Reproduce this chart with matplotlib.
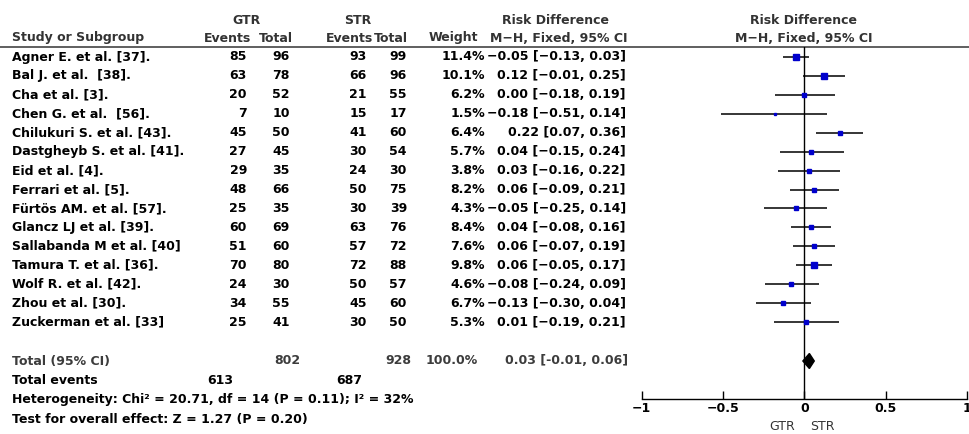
import matplotlib.pyplot as plt
from matplotlib.patches import Polygon
import numpy as np

plt.rcParams['font.family'] = 'DejaVu Sans'

# study level data
studies = ['Agner E. et al. [37].', 'Bal J. et al.  [38].', 'Cha et al. [3].',
           'Chen G. et al.  [56].', 'Chilukuri S. et al. [43].', 'Dastgheyb S. et al. [41].',
           'Eid et al. [4].', 'Ferrari et al. [5].', 'Fürtös AM. et al. [57].',
           'Glancz LJ et al. [39].', 'Sallabanda M et al. [40]', 'Tamura T. et al. [36].',
           'Wolf R. et al. [42].', 'Zhou et al. [30].', 'Zuckerman et al. [33]']
gtr_events = [85, 63, 20, 7, 45, 27, 29, 48, 25, 60, 51, 70, 24, 34, 25]
gtr_total = [96, 78, 52, 10, 50, 45, 35, 66, 35, 69, 60, 80, 30, 55, 41]
str_events = [93, 66, 21, 15, 41, 30, 24, 50, 30, 63, 57, 72, 50, 45, 30]
str_total = [99, 96, 55, 17, 60, 54, 30, 75, 39, 76, 72, 88, 57, 60, 50]
weight = [11.4, 10.1, 6.2, 1.5, 6.4, 5.7, 3.8, 8.2, 4.3, 8.4, 7.6, 9.8, 4.6, 6.7, 5.3]
rd = [-0.05, 0.12, 0.00, -0.18, 0.22, 0.04, 0.03, 0.06, -0.05, 0.04, 0.06, 0.06, -0.08, -0.13, 0.01]
ci_lo = [-0.13, -0.01, -0.18, -0.51, 0.07, -0.15, -0.16, -0.09, -0.25, -0.08, -0.07, -0.05, -0.24, -0.30, -0.19]
ci_hi = [0.03, 0.25, 0.19, 0.14, 0.36, 0.24, 0.22, 0.21, 0.14, 0.16, 0.19, 0.17, 0.09, 0.04, 0.21]

# pooled result
tot_gtr, tot_str = 802, 928
ev_gtr, ev_str = 613, 687
pooled = [0.03, -0.01, 0.06]

xticks = [-1, -0.5, 0, 0.5, 1]
xticklabels = ['\u22121', '\u22120.5', '0', '0.5', '1']

W, H = 970, 434
fig = plt.figure(figsize=(W / 100, H / 100), dpi=100)

# text layer in pixel units
tax = fig.add_axes([0, 0, 1, 1])
tax.set_xlim(0, W)
tax.set_ylim(H, 0)
tax.axis('off')

y0, dy = 57, 18.93
fs = 9
hdr = '#333333'
bold = dict(fontsize=fs, fontweight='bold', va='center', color='black')
grey = dict(fontsize=fs, fontweight='bold', va='center', color='#3c3c3c')
head = dict(fontsize=fs, fontweight='bold', va='center', color=hdr)


def fmt(v):
    return ('%.2f' % v).replace('-', '\u2212')


# header
tax.text(247, 20, 'GTR', ha='center', **head)
tax.text(358, 20, 'STR', ha='center', **head)
tax.text(556, 20, 'Risk Difference', ha='center', **head)
tax.text(804, 20, 'Risk Difference', ha='center', **head)
tax.text(12, 38, 'Study or Subgroup', ha='left', **head)
tax.text(251, 38, 'Events', ha='right', **head)
tax.text(293, 38, 'Total', ha='right', **head)
tax.text(373, 38, 'Events', ha='right', **head)
tax.text(408, 38, 'Total', ha='right', **head)
tax.text(478, 38, 'Weight', ha='right', **head)
tax.text(559, 38, 'M\u2212H, Fixed, 95% CI', ha='center', **head)
tax.text(804, 38, 'M\u2212H, Fixed, 95% CI', ha='center', **head)
tax.axhline(46.7, color='#444444', lw=1.2)

# study rows
for i, name in enumerate(studies):
    y = y0 + i * dy
    tax.text(12, y, name, ha='left', **bold)
    tax.text(247, y, str(gtr_events[i]), ha='right', **bold)
    tax.text(290, y, str(gtr_total[i]), ha='right', **bold)
    tax.text(367, y, str(str_events[i]), ha='right', **bold)
    tax.text(407, y, str(str_total[i]), ha='right', **bold)
    tax.text(485, y, '%.1f%%' % weight[i], ha='right', **bold)
    tax.text(626, y, '%s [%s, %s]' % (fmt(rd[i]), fmt(ci_lo[i]), fmt(ci_hi[i])), ha='right', **bold)

# totals
yt = 361
tax.text(12, yt, 'Total (95% CI)', ha='left', **grey)
tax.text(300, yt, str(tot_gtr), ha='right', **grey)
tax.text(411, yt, str(tot_str), ha='right', **grey)
tax.text(478, yt, '100.0%', ha='right', **grey)
tax.text(628, yt, '%.2f [%.2f, %.2f]' % tuple(pooled), ha='right', **grey)
tax.text(12, 381, 'Total events', ha='left', **bold)
tax.text(233, 381, str(ev_gtr), ha='right', **bold)
tax.text(362, 381, str(ev_str), ha='right', **bold)
tax.text(12, 400, 'Heterogeneity: Chi\u00b2 = 20.71, df = 14 (P = 0.11); I\u00b2 = 32%', ha='left', **bold)
tax.text(12, 419, 'Test for overall effect: Z = 1.27 (P = 0.20)', ha='left', **bold)

# forest plot
x_lo, x_hi = 641.7, 967.3
ax_top, ax_bot = 46.7, 399.3
fax = fig.add_axes([x_lo / W, (H - ax_bot) / H, (x_hi - x_lo) / W, (ax_bot - ax_top) / H])
fax.patch.set_alpha(0)
fax.set_xlim(-1, 1)
fax.set_ylim((ax_bot - y0) / dy, (ax_top - y0) / dy)
for s in ['top', 'left', 'right']:
    fax.spines[s].set_visible(False)
fax.spines['bottom'].set_linewidth(1.0)
fax.set_yticks([])
fax.set_xticks(xticks)
fax.set_xticklabels(xticklabels, fontweight='bold', fontsize=fs)
fax.tick_params(axis='x', direction='in', length=6, width=1, pad=2)

rows = np.arange(len(studies))
fax.axvline(0, color='black', lw=1.0, zorder=1)
fax.hlines(rows, ci_lo, ci_hi, color='black', lw=1.1, zorder=2)
for i in rows:
    ms = 4.0 * np.sqrt(weight[i] / 11.4)
    fax.plot(rd[i], i, marker='s', ms=ms, color='#0000cc', mec='#0000cc', zorder=3)

# pooled diamond
row_tot = (yt - y0) / dy
h = 7.5 / dy
est, lo, hi = pooled
fax.add_patch(Polygon([(lo, row_tot), (est, row_tot - h), (hi, row_tot), (est, row_tot + h)],
                      closed=True, color='black', zorder=3))

tax.text(795, 427, 'GTR', ha='right', fontsize=fs, va='center', color='#333333')
tax.text(810, 427, 'STR', ha='left', fontsize=fs, va='center', color='#333333')

fig.savefig('out.png', dpi=100)
